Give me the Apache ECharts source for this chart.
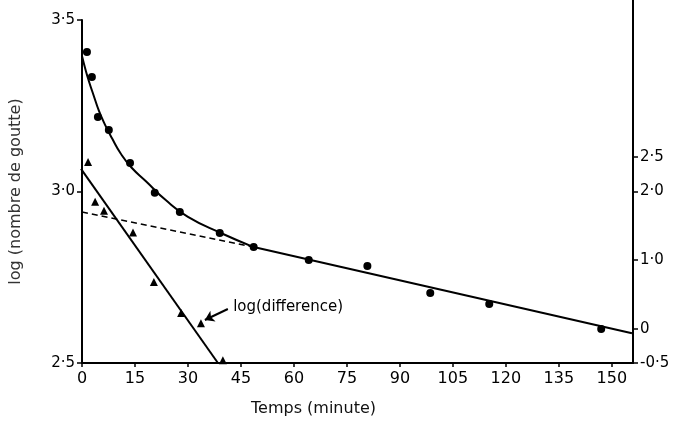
<!DOCTYPE html>
<html>
<head>
<meta charset="utf-8">
<script src="https://cdn.jsdelivr.net/npm/echarts@6/dist/echarts.min.js"></script>
<style>
    html, body { margin: 0; padding: 0; background: #fff; }
    #chart { width: 681px; height: 432px; }
</style>
</head>
<body>
<div id="chart"></div>
<script>
    // points mesurés (cercles)
    const timeDots = [1.4, 2.8, 4.5, 7.6, 13.6, 20.6, 27.7, 39.0, 48.6, 64.2, 80.8, 98.6, 115.3, 147.0];
    const logDots = [3.407, 3.334, 3.217, 3.179, 3.083, 2.996, 2.940, 2.879, 2.838, 2.800, 2.783, 2.704, 2.672, 2.599];

    // courbe ajustée : partie courbe puis partie droite
    const timeCurve = [0, 1, 2, 3.3, 4.8, 6.5, 8.5, 11.0, 14.0, 18.1, 23.7, 30.0, 39.3, 48.6];
    const logCurve = [3.395, 3.355, 3.32, 3.28, 3.235, 3.195, 3.155, 3.11, 3.07, 3.03, 2.975, 2.926, 2.879, 2.838];
    const timeStraight = [48.6, 155.7];
    const logStraight = [2.838, 2.587];

    // extrapolation (tirets)
    const timeDash = [0, 48.6];
    const logDash = [2.940, 2.838];

    // log(difference) - triangles, axe de droite
    const timeTri = [2.0, 4.0, 6.5, 14.7, 20.6, 28.3, 33.9, 40.1];
    const logTri = [2.43, 1.85, 1.72, 1.40, 0.68, 0.23, 0.08, -0.46];
    const timeDiffLine = [0, 38.7];
    const logDiffLine = [2.33, -0.5];

    const xTicks = [0, 15, 30, 45, 60, 75, 90, 105, 120, 135, 150];
    const rightTicks = [-0.5, 0, 1, 2, 2.5];

    const zip = (a, b) => a.map((v, i) => [v, b[i]]);
    const fmt = v => v === 0 ? '0' : v.toFixed(1).replace('.', '·');
    const font = 'DejaVu Sans';

    let myChart = echarts.init(document.getElementById('chart'));
    let option = {
        animation: false,
        backgroundColor: '#fff',
        grid: [
            { left: 81, right: 48, top: 20, bottom: 69 },
            { left: 81, right: 48, top: 0, bottom: 69 }
        ],
        xAxis: [
            {
                gridIndex: 0,
                type: 'value',
                min: 0,
                max: 156,
                name: 'Temps (minute)',
                nameLocation: 'middle',
                nameGap: 38,
                nameTextStyle: { color: '#111', fontSize: 16, fontFamily: font, padding: [0, 88, 0, 0] },
                splitLine: { show: false },
                axisLine: { onZero: false, lineStyle: { color: '#000', width: 2 } },
                axisTick: { length: 4, lineStyle: { color: '#000', width: 1.5 }, customValues: xTicks },
                axisLabel: { color: '#000', fontSize: 16, fontFamily: font, margin: 8, customValues: xTicks }
            },
            {
                gridIndex: 1,
                type: 'value',
                min: 0,
                max: 156,
                show: false
            }
        ],
        yAxis: [
            {
                gridIndex: 0,
                type: 'value',
                min: 2.5,
                max: 3.5,
                interval: 0.5,
                name: 'log (nombre de goutte)',
                nameLocation: 'middle',
                nameRotate: 90,
                nameGap: 58,
                nameTextStyle: { color: '#333', fontSize: 16, fontFamily: font },
                splitLine: { show: false },
                axisLine: { show: true, onZero: false, lineStyle: { color: '#000', width: 2 } },
                axisTick: { show: true, length: 5, lineStyle: { color: '#000', width: 1.5 } },
                axisLabel: { color: '#000', fontSize: 15, fontFamily: font, margin: 7, formatter: fmt }
            },
            {
                gridIndex: 1,
                type: 'value',
                position: 'right',
                min: -0.5,
                max: 4.79,
                splitLine: { show: false },
                axisLine: { show: true, onZero: false, lineStyle: { color: '#000', width: 2 } },
                axisTick: { show: true, length: 5, lineStyle: { color: '#000', width: 1.5 }, customValues: rightTicks },
                axisLabel: { color: '#000', fontSize: 15, fontFamily: font, margin: 7, formatter: fmt, customValues: rightTicks }
            }
        ],
        series: [
            {
                type: 'line',
                xAxisIndex: 0,
                yAxisIndex: 0,
                data: zip(timeCurve, logCurve),
                smooth: 0.5,
                showSymbol: false,
                lineStyle: { color: '#000', width: 2 }
            },
            {
                type: 'line',
                xAxisIndex: 0,
                yAxisIndex: 0,
                data: zip(timeStraight, logStraight),
                showSymbol: false,
                lineStyle: { color: '#000', width: 2 }
            },
            {
                type: 'line',
                xAxisIndex: 0,
                yAxisIndex: 0,
                data: zip(timeDash, logDash),
                showSymbol: false,
                lineStyle: { color: '#000', width: 1.6, type: [6, 4] }
            },
            {
                type: 'scatter',
                xAxisIndex: 0,
                yAxisIndex: 0,
                data: zip(timeDots, logDots),
                symbol: 'circle',
                symbolSize: 8,
                itemStyle: { color: '#000', opacity: 1 }
            },
            {
                type: 'line',
                xAxisIndex: 1,
                yAxisIndex: 1,
                data: zip(timeDiffLine, logDiffLine),
                showSymbol: false,
                lineStyle: { color: '#000', width: 2 }
            },
            {
                type: 'scatter',
                xAxisIndex: 1,
                yAxisIndex: 1,
                data: zip(timeTri, logTri),
                symbol: 'triangle',
                symbolSize: 8,
                itemStyle: { color: '#000', opacity: 1 },
                markLine: {
                    silent: true,
                    symbol: ['none', 'arrow'],
                    symbolSize: 9,
                    label: { show: false },
                    lineStyle: { color: '#000', width: 2, type: 'solid' },
                    data: [[{ coord: [41.5, 0.287] }, { coord: [35.0, 0.127] }]]
                },
                markPoint: {
                    symbol: 'circle',
                    symbolSize: 0,
                    label: {
                        show: true,
                        position: 'right',
                        distance: 0,
                        color: '#000',
                        fontSize: 15,
                        fontFamily: font,
                        formatter: 'log(difference)'
                    },
                    data: [{ coord: [43, 0.316] }]
                }
            }
        ]
    };
    myChart.setOption(option);
</script>
</body>
</html>
